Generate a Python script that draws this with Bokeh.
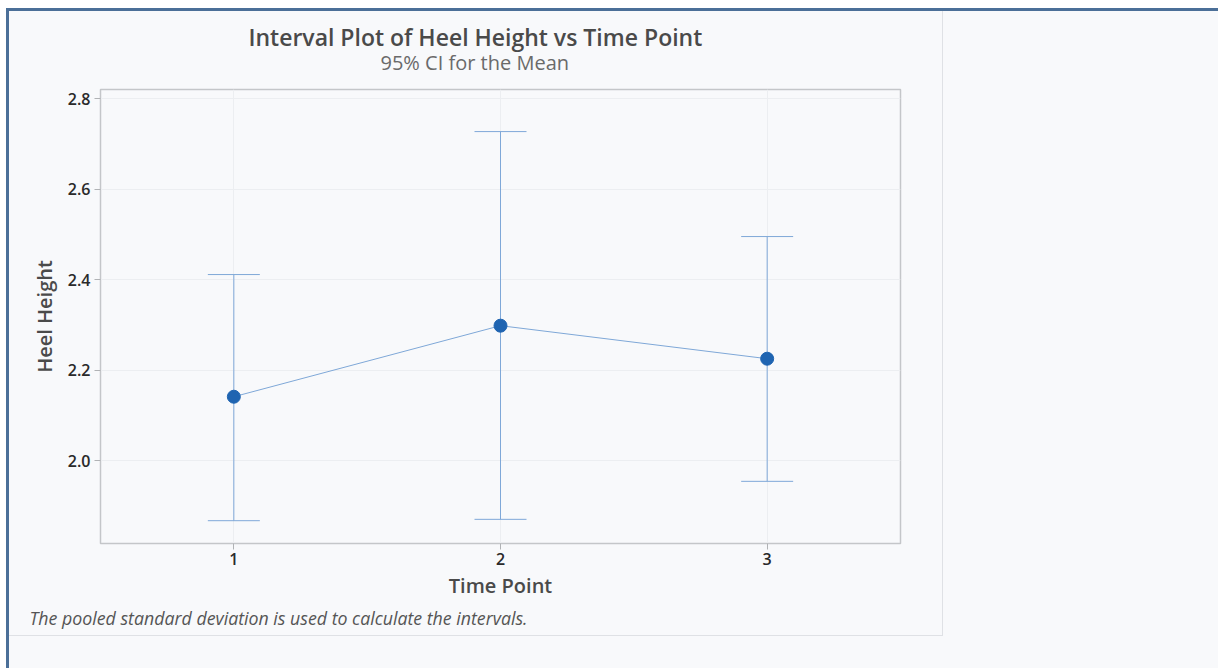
from bokeh.plotting import figure
from bokeh.models import Title, Whisker, TeeHead, ColumnDataSource, FixedTicker, Range1d, PrintfTickFormatter
from bokeh.layouts import column
from bokeh.embed import file_html
from bokeh.resources import INLINE

# ---- data ----
time_points = [1, 2, 3]
means = [2.141, 2.298, 2.225]
ci_lower = [1.867, 1.870, 1.954]
ci_upper = [2.411, 2.727, 2.495]
x_ticks = [1, 2, 3]
y_ticks = [2.0, 2.2, 2.4, 2.6, 2.8]

title_text = "Interval Plot of Heel Height vs Time Point"
subtitle_text = "95% CI for the Mean"
x_label = "Time Point"
y_label = "Heel Height"
footnote_text = "The pooled standard deviation is used to calculate the intervals."

FONT = "Open Sans"
SEMI = "'Open Sans SemiBold', 'Open Sans'"
BG = "#f8f9fb"

X0, X1 = 0.5, 3.5
Y0, Y1 = 1.8166, 2.82

W, H = 934, 625
FL, FT, FR, FB = 91, 78, 891, 532  # frame edges in canvas px

p = figure(width=W, height=H, x_range=Range1d(X0, X1), y_range=Range1d(Y0, Y1),
           output_backend="svg", toolbar_location=None,
           min_border_left=FL, min_border_right=W - FR, min_border_top=FT, min_border_bottom=H - FB,
           background_fill_color=BG, border_fill_color=BG,
           styles={"border-right": "1px solid #dfe1e5", "border-bottom": "1px solid #dfe1e5"})

p.outline_line_color = "#c4c6c9"
p.outline_line_width = 1.5

p.xaxis.ticker = FixedTicker(ticks=x_ticks)
p.yaxis.ticker = FixedTicker(ticks=y_ticks)
p.yaxis.formatter = PrintfTickFormatter(format="%.1f")
for ax in (p.xaxis[0], p.yaxis[0]):
    ax.axis_line_color = "#c4c6c9"
    ax.major_tick_line_color = "#b0b2b5"
    ax.major_tick_out = 6
    ax.major_tick_in = 0
    ax.minor_tick_line_color = None
    ax.major_label_text_font = SEMI
    ax.major_label_text_font_size = "16px"
    ax.major_label_text_color = "#2a2a2a"
    ax.axis_label_text_font = SEMI
    ax.axis_label_text_font_size = "20px"
    ax.axis_label_text_font_style = "normal"
    ax.axis_label_text_color = "#4a4a4a"
p.xaxis.axis_label = x_label
p.yaxis.axis_label = y_label
p.xaxis.major_label_standoff = 3
p.xaxis.axis_label_standoff = 4
p.yaxis.major_label_standoff = 4
p.yaxis.axis_label_standoff = 7

p.xgrid.grid_line_color = "#eceef1"
p.ygrid.grid_line_color = "#eceef1"

src = ColumnDataSource(dict(x=time_points, m=means, lo=ci_lower, hi=ci_upper))

wh = Whisker(source=src, base="x", upper="hi", lower="lo", dimension="height",
             line_color="#7fa8d8", line_width=1,
             upper_head=TeeHead(size=52, line_color="#7fa8d8", line_width=1),
             lower_head=TeeHead(size=52, line_color="#7fa8d8", line_width=1))
p.add_layout(wh)

p.line("x", "m", source=src, line_color="#7fa8d8", line_width=1)
p.scatter("x", "m", source=src, size=13, fill_color="#1f64b1", line_color="#1f64b1")

p.add_layout(Title(text=subtitle_text, align="left", offset=280, standoff=27,
                   text_font=FONT, text_font_size="20px", text_font_style="normal",
                   text_color="#6a6a6a"), "above")
p.add_layout(Title(text=title_text, align="left", offset=148, standoff=-39,
                   text_font=SEMI, text_font_size="23px", text_font_style="normal",
                   text_color="#4a4a4a"), "above")
p.add_layout(Title(text=footnote_text, align="left", offset=-71, standoff=5,
                   text_font=FONT, text_font_size="17.75px", text_font_style="italic",
                   text_color="#555555"), "below")

layout = column(p, width=1212, height=660,
                styles={"border-top": "3px solid #4b6f98", "border-left": "3px solid #4b6f98",
                        "background-color": BG, "margin-top": "8px", "margin-left": "6px"})

open("out.html", "w").write(file_html(layout, INLINE))
